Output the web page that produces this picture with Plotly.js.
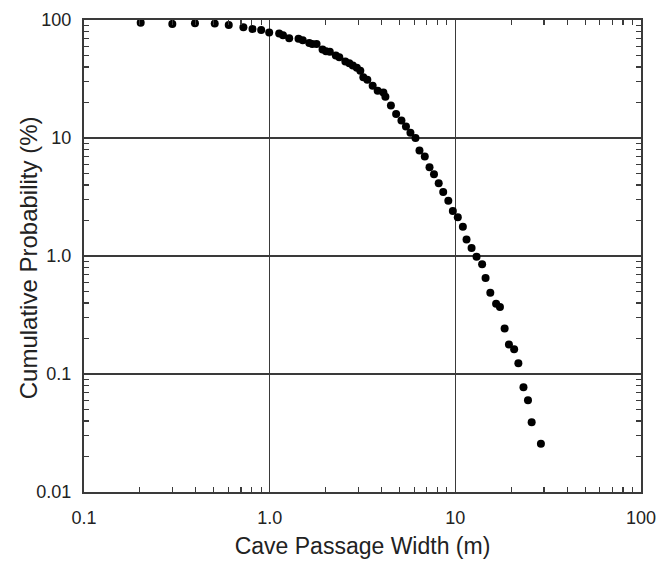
<!DOCTYPE html>
<html>
<head>
<meta charset="utf-8">
<script src="https://cdn.plot.ly/plotly-3.0.1.min.js"></script>
<style>html,body{margin:0;padding:0;background:#fff;}#chart{width:658px;height:565px;}</style>
</head>
<body>
<div id="chart"></div>
<script>
// Cave passage width (m)
const widthM = [0.202, 0.299, 0.396, 0.506, 0.602, 0.722, 0.808, 0.900, 0.994, 1.125,
  1.18, 1.274, 1.43, 1.507, 1.634, 1.696, 1.789, 1.927, 2.011, 2.108,
  2.271, 2.372, 2.556, 2.685, 2.805, 2.948, 3.078, 3.195, 3.358, 3.587,
  3.817, 4.098, 4.201, 4.498, 4.798, 5.124, 5.42, 5.731, 6.1, 6.41,
  6.846, 7.26, 7.674, 8.136, 8.604, 9.167, 9.694, 10.31, 10.98, 11.49,
  12.23, 13.01, 13.94, 14.55, 15.43, 16.58, 17.39, 18.43, 19.44, 20.74,
  21.85, 23.28, 24.62, 25.77, 28.9];
// Cumulative probability (%)
const cumProb = [95.0, 92.7, 93.8, 93.2, 90.9, 86.7, 84.0, 82.4, 78.2, 76.7,
  74.1, 70.2, 69.5, 67.5, 63.9, 62.7, 62.7, 56.1, 54.4, 53.9,
  49.9, 48.4, 44.4, 43.1, 41.2, 39.4, 37.2, 32.8, 31.2, 27.7,
  25.2, 24.3, 22.4, 18.9, 16.0, 14.1, 12.5, 11.07, 9.98, 7.83,
  6.97, 5.66, 4.94, 4.14, 3.48, 2.94, 2.41, 2.13, 1.773, 1.38,
  1.169, 0.986, 0.85, 0.65, 0.488, 0.394, 0.369, 0.243, 0.178, 0.162,
  0.1235, 0.0773, 0.0599, 0.039, 0.0256];

const xTickVals = [0.1, 1, 10, 100];
const xTickText = ['0.1', '1.0', '10', '100'];
const yTickVals = [0.01, 0.1, 1, 10, 100];
const yTickText = ['0.01', '0.1', '1.0', '10', '100'];
const xTitle = 'Cave Passage Width (m)';
const yTitle = 'Cumulative Probability (%)';

function minorVals(lo, hi) {
  const v = [];
  for (let d = lo; d < hi; d++) {
    for (let k = 2; k <= 9; k++) v.push(k * Math.pow(10, d));
  }
  return v;
}

const FONT = 'Liberation Sans, Arial, sans-serif';

const axisCommon = {
  type: 'log',
  showline: true,
  linecolor: '#3a3a3a',
  linewidth: 2,
  mirror: 'ticks',
  ticks: 'inside',
  ticklen: 6,
  tickwidth: 1.3,
  tickcolor: '#3a3a3a',
  showgrid: true,
  gridcolor: '#3a3a3a',
  gridwidth: 1.6,
  zeroline: false,
  tickmode: 'array',
  ticklabelstandoff: 8,
  tickfont: {family: FONT, size: 18, color: '#222'}
};

const trace = {
  x: widthM,
  y: cumProb,
  mode: 'markers',
  type: 'scatter',
  marker: {color: '#000', size: 8}
};

const layout = {
  width: 658,
  height: 565,
  margin: {l: 84, r: 17, t: 20, b: 73},
  paper_bgcolor: '#fff',
  plot_bgcolor: '#fff',
  showlegend: false,
  xaxis: Object.assign({}, axisCommon, {
    range: [-1, 2],
    tickvals: xTickVals,
    ticktext: xTickText,
    minor: {tickmode: 'array', tickvals: minorVals(-1, 2), ticks: 'inside', ticklen: 5, tickwidth: 1.2, tickcolor: '#3a3a3a', showgrid: false},
    title: {text: xTitle, font: {family: FONT, size: 23, color: '#222'}, standoff: 11}
  }),
  yaxis: Object.assign({}, axisCommon, {
    range: [-2, 2],
    tickvals: yTickVals,
    ticktext: yTickText,
    ticklabelstandoff: 7,
    minor: {tickmode: 'array', tickvals: minorVals(-2, 2), ticks: 'inside', ticklen: 5, tickwidth: 1.2, tickcolor: '#3a3a3a', showgrid: false},
    title: {text: ''}
  }),
  annotations: [{
    text: yTitle,
    xref: 'paper', yref: 'paper',
    x: -0.099, y: 0.497,
    xanchor: 'center', yanchor: 'middle',
    textangle: -90,
    showarrow: false,
    font: {family: FONT, size: 24, color: '#222'}
  }]
};

Plotly.newPlot('chart', [trace], layout, {displayModeBar: false, staticPlot: true});
</script>
</body>
</html>
